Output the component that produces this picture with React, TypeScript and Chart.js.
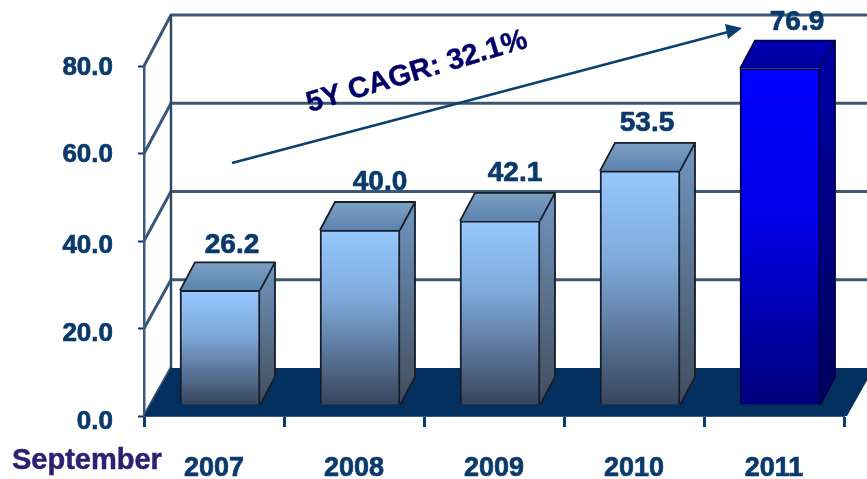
import React, { useEffect, useRef } from "react";
import { Chart, registerables } from "chart.js";

Chart.register(...registerables);

const years = ["2007", "2008", "2009", "2010", "2011"];
const values = [26.2, 40.0, 42.1, 53.5, 76.9];
const yTicks = [0, 20, 40, 60, 80];
const cagrLabel = "5Y CAGR: 32.1%";
const xAxisTitle = "September";

const NAVY = "#0a3a6c";
const FONT = '"Liberation Sans", Arial, sans-serif';
const DX = 27; // wall depth
const DY = 48;
const DY_GROWTH = 3; // the back wall is drawn slightly taller than the front axis
const BAR_DX = 15; // bar depth
const BAR_DY = 28;
const SHIFT_X = 6; // bars stand a little inside the floor
const SHIFT_Y = -11;
const LABEL_NUDGE = [12, 20, 15, 7, 17];
const LABEL_LIFT = [17, 20, 20, 20, 18];
const Y_LABEL_DROP = [6, 5, 5, 1, 2];

const isHighlight = (i: number) => i === years.length - 1;

function poly(ctx: CanvasRenderingContext2D, pts: number[][], fill: any) {
  ctx.beginPath();
  pts.forEach((p, i) => (i ? ctx.lineTo(p[0], p[1]) : ctx.moveTo(p[0], p[1])));
  ctx.closePath();
  ctx.fillStyle = fill;
  ctx.fill();
}

function boldText(ctx: CanvasRenderingContext2D, text: string, x: number, y: number, color: string, w = 0.7) {
  ctx.fillStyle = color;
  ctx.strokeStyle = color;
  ctx.lineWidth = w;
  ctx.lineJoin = "round";
  ctx.fillText(text, x, y);
  ctx.strokeText(text, x, y);
}

const scene3d = {
  id: "scene3d",
  beforeDraw(chart: any) {
    // the reference's y labels sit slightly below their ticks
    const items = chart.scales.y.getLabelItems();
    items.forEach((it: any, i: number) => {
      if (!it.__moved) {
        it.options.translation[1] += Y_LABEL_DROP[i] ?? 0;
        it.__moved = true;
      }
    });
  },
  beforeDatasetsDraw(chart: any) {
    const { ctx, chartArea, scales } = chart;
    const y = scales.y;
    const left = chartArea.left;
    const backX = left + DX;
    const zero = y.getPixelForValue(0);
    const wallY = (v: number) => y.getPixelForValue(v) - DY - (DY_GROWTH * v) / 80;
    ctx.save();
    // walls: grid lines on back and side
    ctx.strokeStyle = "#3c5775";
    ctx.lineWidth = 3;
    yTicks.forEach((v) => {
      const py = y.getPixelForValue(v);
      ctx.beginPath();
      ctx.moveTo(left, py);
      ctx.lineTo(backX, wallY(v));
      if (v !== 0) ctx.lineTo(867, wallY(v));
      ctx.stroke();
    });
    ctx.strokeStyle = "#2c4766";
    ctx.lineWidth = 2.4;
    ctx.beginPath();
    ctx.moveTo(backX, wallY(80));
    ctx.lineTo(backX, wallY(0));
    ctx.stroke();
    // floor
    poly(
      ctx,
      [
        [left, zero],
        [chartArea.right + 3, zero],
        [chartArea.right + 3 + DX, zero - DY],
        [backX, zero - DY],
      ],
      "#03305f"
    );
    ctx.restore();
  },
  beforeDatasetDraw(chart: any) {
    const { ctx, scales } = chart;
    const base = scales.y.getPixelForValue(0);
    ctx.save();
    ctx.translate(SHIFT_X, SHIFT_Y);
    chart.getDatasetMeta(0).data.forEach((bar: any, i: number) => {
      const hi = isHighlight(i);
      const r = bar.x + bar.width / 2;
      const l = bar.x - bar.width / 2;
      const side = ctx.createLinearGradient(0, bar.y - BAR_DY, 0, base);
      side.addColorStop(0, hi ? "#0000a8" : "#7196c0");
      side.addColorStop(1, hi ? "#00005c" : "#414c5c");
      poly(
        ctx,
        [
          [r, bar.y],
          [r + BAR_DX, bar.y - BAR_DY],
          [r + BAR_DX, base - BAR_DY],
          [r, base],
        ],
        side
      );
      const top = ctx.createLinearGradient(0, bar.y - BAR_DY, 0, bar.y);
      top.addColorStop(0, hi ? "#0000b4" : "#7d9fc4");
      top.addColorStop(1, hi ? "#0000a0" : "#5c83ad");
      poly(
        ctx,
        [
          [l, bar.y],
          [l + BAR_DX, bar.y - BAR_DY],
          [r + BAR_DX, bar.y - BAR_DY],
          [r, bar.y],
        ],
        top
      );
      ctx.strokeStyle = hi ? "#00004a" : "#151d2a";
      ctx.lineWidth = 1.8;
      ctx.beginPath();
      ctx.moveTo(l, bar.y);
      ctx.lineTo(l + BAR_DX, bar.y - BAR_DY);
      ctx.lineTo(r + BAR_DX, bar.y - BAR_DY);
      ctx.lineTo(r + BAR_DX, base - BAR_DY);
      ctx.lineTo(r, base);
      ctx.moveTo(r, bar.y);
      ctx.lineTo(r + BAR_DX, bar.y - BAR_DY);
      ctx.stroke();
    });
  },
  afterDatasetDraw(chart: any) {
    chart.ctx.restore();
  },
  afterDatasetsDraw(chart: any) {
    const { ctx } = chart;
    ctx.save();
    // value labels
    ctx.font = `bold 28px ${FONT}`;
    ctx.textAlign = "center";
    ctx.textBaseline = "middle";
    chart.getDatasetMeta(0).data.forEach((bar: any, i: number) => {
      boldText(
        ctx,
        values[i].toFixed(1),
        bar.x + SHIFT_X + LABEL_NUDGE[i],
        bar.y + SHIFT_Y - BAR_DY - LABEL_LIFT[i],
        NAVY
      );
    });
    // trend arrow
    const [ax, ay, bx, by] = [232, 163, 728, 32];
    ctx.strokeStyle = "#0a4070";
    ctx.lineWidth = 2.6;
    ctx.beginPath();
    ctx.moveTo(ax, ay);
    ctx.lineTo(bx, by);
    ctx.stroke();
    poly(
      ctx,
      [
        [742, 28],
        [725, 24],
        [728, 39],
      ],
      "#0a4070"
    );
    // CAGR label
    ctx.save();
    ctx.translate(417, 72);
    ctx.rotate((-16.5 * Math.PI) / 180);
    ctx.font = `bold 29px ${FONT}`;
    boldText(ctx, cagrLabel, 0, 0, "#000066", 0.4);
    ctx.restore();
    // axis title
    ctx.font = `bold 29px ${FONT}`;
    ctx.textAlign = "left";
    boldText(ctx, xAxisTitle, 12, 461, "#2b2171", 0.5);
    ctx.restore();
  },
};

export default function App() {
  const ref = useRef<HTMLCanvasElement>(null);
  useEffect(() => {
    document.body.style.margin = "0";
    const canvas = ref.current!;
    const barFill = (c: any) => {
      const { chart, dataIndex } = c;
      const ys = chart.scales.y;
      if (!ys || dataIndex === undefined) return "#93c6ff";
      const t = ys.getPixelForValue(values[dataIndex]);
      const b = ys.getPixelForValue(0);
      if (!Number.isFinite(t) || !Number.isFinite(b)) return "#93c6ff";
      const g = chart.ctx.createLinearGradient(0, t, 0, b);
      if (isHighlight(dataIndex)) {
        g.addColorStop(0, "#0000ff");
        g.addColorStop(0.45, "#0000e8");
        g.addColorStop(1, "#00007c");
      } else {
        g.addColorStop(0, "#96c8ff");
        g.addColorStop(0.4, "#7ea8d8");
        g.addColorStop(1, "#37455c");
      }
      return g;
    };
    const chart = new Chart(canvas, {
      type: "bar",
      data: {
        labels: years,
        datasets: [
          {
            data: values,
            backgroundColor: barFill,
            borderColor: (c: any) => (isHighlight(c.dataIndex) ? "#00004a" : "#151d2a"),
            borderWidth: 2,
            barThickness: 80,
          },
        ],
      },
      options: {
        responsive: false,
        animation: false,
        layout: { padding: { top: 66, right: 23, left: 0, bottom: 0 } },
        plugins: { legend: { display: false }, tooltip: { enabled: false } },
        scales: {
          x: {
            afterFit: (s: any) => {
              s.height = 63;
            },
            grid: {
              drawOnChartArea: false,
              offset: true,
              tickLength: 11,
              tickWidth: 3,
              tickColor: NAVY,
            },
            border: { color: "#3a5a80", width: 2 },
            ticks: {
              color: NAVY,
              padding: 25,
              maxRotation: 0,
              textStrokeColor: NAVY,
              textStrokeWidth: 0.7,
              font: { family: FONT, size: 27, weight: "bold" },
            },
          },
          y: {
            min: 0,
            max: 80,
            afterFit: (s: any) => {
              s.width = 144;
            },
            afterBuildTicks: (s: any) => {
              s.ticks = yTicks.map((value) => ({ value }));
            },
            grid: {
              drawOnChartArea: false,
              tickLength: 6,
              tickWidth: 2,
              tickColor: NAVY,
            },
            border: { color: "#3a5a80", width: 2.5 },
            ticks: {
              color: NAVY,
              padding: 25,
              textStrokeColor: NAVY,
              textStrokeWidth: 0.7,
              callback: (v: any) => Number(v).toFixed(1),
              font: { family: FONT, size: 26, weight: "bold" },
            },
          },
        },
      },
      plugins: [scene3d],
    } as any);
    return () => chart.destroy();
  }, []);
  return (
    <div style={{ position: "absolute", left: 0, top: 0, width: 867, height: 479, background: "#fff", overflow: "hidden" }}>
      <canvas ref={ref} width={867} height={479} style={{ display: "block", filter: "blur(0.5px)" }} />
    </div>
  );
}
